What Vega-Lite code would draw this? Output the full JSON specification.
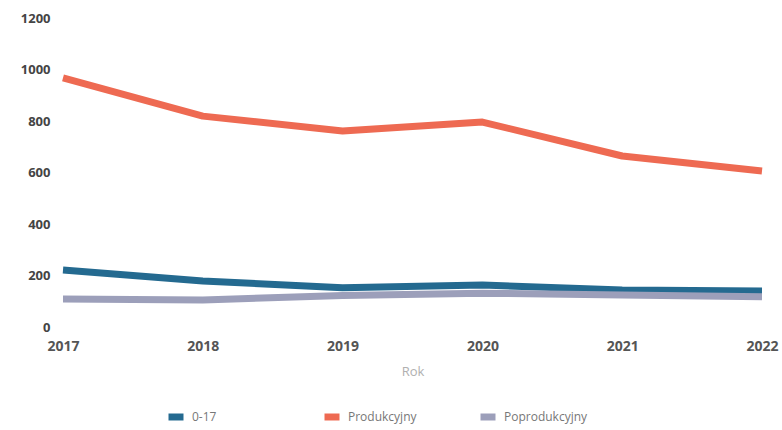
{
  "$schema": "https://vega.github.io/schema/vega-lite/v6.json",
  "width": 699,
  "height": 309,
  "autosize": {"type": "none"},
  "padding": {"left": 63, "top": 18, "right": 20, "bottom": 103},
  "background": "white",
  "config": {
    "view": {"stroke": null},
    "font": "Open Sans"
  },
  "data": {
    "values": [
      {"Rok": 2017, "grupa": "0-17", "wartosc": 221},
      {"Rok": 2018, "grupa": "0-17", "wartosc": 179},
      {"Rok": 2019, "grupa": "0-17", "wartosc": 152},
      {"Rok": 2020, "grupa": "0-17", "wartosc": 163},
      {"Rok": 2021, "grupa": "0-17", "wartosc": 144},
      {"Rok": 2022, "grupa": "0-17", "wartosc": 140},
      {"Rok": 2017, "grupa": "Produkcyjny", "wartosc": 967},
      {"Rok": 2018, "grupa": "Produkcyjny", "wartosc": 819},
      {"Rok": 2019, "grupa": "Produkcyjny", "wartosc": 761},
      {"Rok": 2020, "grupa": "Produkcyjny", "wartosc": 796},
      {"Rok": 2021, "grupa": "Produkcyjny", "wartosc": 664},
      {"Rok": 2022, "grupa": "Produkcyjny", "wartosc": 606},
      {"Rok": 2017, "grupa": "Poprodukcyjny", "wartosc": 109},
      {"Rok": 2018, "grupa": "Poprodukcyjny", "wartosc": 105},
      {"Rok": 2019, "grupa": "Poprodukcyjny", "wartosc": 122},
      {"Rok": 2020, "grupa": "Poprodukcyjny", "wartosc": 131},
      {"Rok": 2021, "grupa": "Poprodukcyjny", "wartosc": 124},
      {"Rok": 2022, "grupa": "Poprodukcyjny", "wartosc": 117}
    ]
  },
  "mark": {"type": "line", "strokeWidth": 7, "interpolate": "linear", "strokeCap": "butt", "strokeJoin": "round"},
  "encoding": {
    "x": {
      "field": "Rok",
      "type": "quantitative",
      "scale": {"domain": [2017, 2022], "nice": false, "zero": false},
      "axis": {
        "values": [2017, 2018, 2019, 2020, 2021, 2022],
        "format": "d",
        "domain": false,
        "ticks": false,
        "grid": false,
        "labelFlush": false,
        "labelPadding": 12,
        "labelFontSize": 14,
        "labelColor": "#555555",
        "labelFontWeight": "bold",
        "title": "Rok",
        "titleFontSize": 13,
        "titleFontWeight": "normal",
        "titleColor": "#b0b0b0",
        "titlePadding": 12,
        "labelOverlap": false
      }
    },
    "y": {
      "field": "wartosc",
      "type": "quantitative",
      "scale": {"domain": [0, 1200], "nice": false},
      "axis": {
        "values": [0, 200, 400, 600, 800, 1000, 1200],
        "format": "d",
        "domain": false,
        "ticks": false,
        "grid": false,
        "labelPadding": 13,
        "labelFontSize": 13,
        "labelColor": "#444444",
        "labelFontWeight": "bold",
        "title": null
      }
    },
    "color": {
      "field": "grupa",
      "type": "nominal",
      "sort": ["0-17", "Produkcyjny", "Poprodukcyjny"],
      "scale": {
        "domain": ["0-17", "Produkcyjny", "Poprodukcyjny"],
        "range": ["#246a90", "#ee6a52", "#9c9fba"]
      },
      "legend": {
        "title": null,
        "orient": "none",
        "legendX": 102,
        "legendY": 388,
        "direction": "horizontal",
        "columns": 3,
        "columnPadding": 34,
        "gridAlign": "all",
        "symbolType": "stroke",
        "symbolSize": 225,
        "symbolStrokeWidth": 7,
        "labelFontSize": 12,
        "labelColor": "#777777",
        "labelOffset": 5
      }
    }
  }
}
